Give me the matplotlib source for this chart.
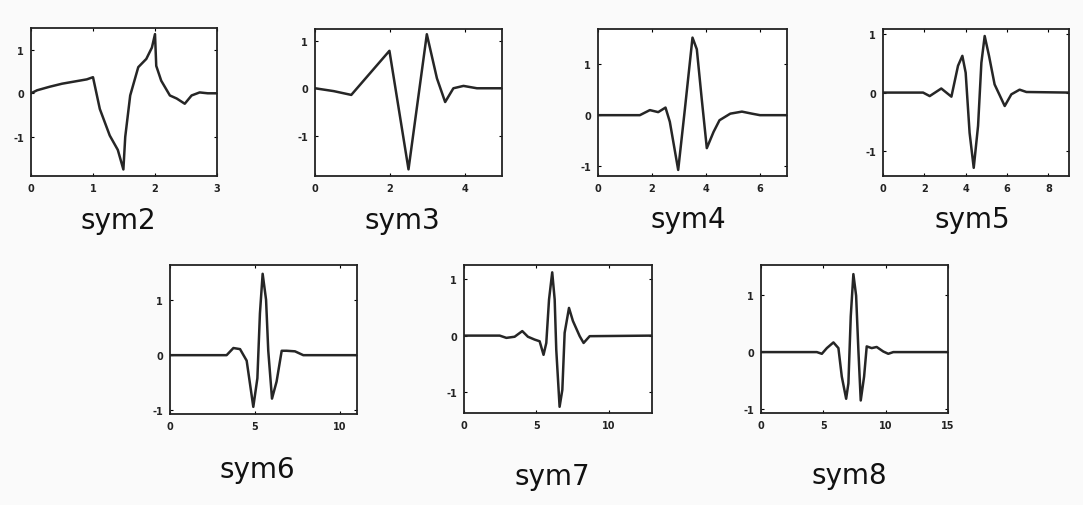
import numpy as np
import matplotlib
matplotlib.use("Agg")
import matplotlib.pyplot as plt

plt.rcParams['font.family'] = ['DejaVu Sans']
plt.rcParams['axes.unicode_minus'] = False

names = ['sym2', 'sym3', 'sym4', 'sym5', 'sym6', 'sym7', 'sym8']

# wavelet shapes (x, psi)
sym2_x = [0, 0.1, 0.3, 0.5, 0.7, 0.9, 1.0, 1.11, 1.27, 1.4, 1.49, 1.52, 1.6, 1.73, 1.86, 1.95, 2.0, 2.02, 2.1, 2.24, 2.35, 2.48, 2.59, 2.72, 2.85, 3.0]
sym2_y = [0, 0.07, 0.15, 0.22, 0.27, 0.32, 0.37, -0.36, -0.97, -1.3, -1.75, -1.0, -0.05, 0.6, 0.79, 1.05, 1.36, 0.63, 0.29, -0.05, -0.12, -0.24, -0.05, 0.02, 0.0, 0.0]
sym3_x = [0, 0.5, 0.97, 1.99, 2.5, 2.99, 3.26, 3.48, 3.7, 3.97, 4.33, 5.0]
sym3_y = [0, -0.06, -0.14, 0.79, -1.71, 1.14, 0.21, -0.29, 0.0, 0.05, 0.0, 0.0]
sym4_x = [0, 1.55, 1.92, 2.23, 2.5, 2.66, 2.97, 3.22, 3.5, 3.66, 3.84, 4.03, 4.28, 4.5, 4.9, 5.33, 5.7, 6.0, 7.0]
sym4_y = [0, 0, 0.1, 0.06, 0.15, -0.13, -1.08, 0.13, 1.53, 1.3, 0.33, -0.65, -0.33, -0.1, 0.03, 0.07, 0.03, 0, 0]
sym5_x = [0, 1.94, 2.26, 2.82, 3.31, 3.63, 3.84, 4.0, 4.19, 4.39, 4.6, 4.76, 4.92, 5.13, 5.4, 5.89, 6.21, 6.61, 6.94, 9.0]
sym5_y = [0, 0, -0.06, 0.07, -0.07, 0.46, 0.63, 0.34, -0.69, -1.29, -0.57, 0.51, 0.97, 0.63, 0.14, -0.23, -0.03, 0.05, 0.01, 0]
sym6_x = [0, 3.33, 3.73, 4.12, 4.51, 4.9, 5.14, 5.29, 5.45, 5.65, 5.78, 6.0, 6.27, 6.57, 6.86, 7.35, 7.84, 11.0]
sym6_y = [0, 0, 0.13, 0.11, -0.1, -0.94, -0.42, 0.76, 1.48, 1.01, 0.08, -0.79, -0.48, 0.08, 0.08, 0.07, 0, 0]
sym7_x = [0, 2.47, 2.93, 3.5, 4.03, 4.42, 4.88, 5.23, 5.5, 5.69, 5.88, 6.1, 6.27, 6.38, 6.61, 6.8, 6.96, 7.26, 7.53, 8.0, 8.27, 8.69, 13.0]
sym7_y = [0, 0, -0.04, -0.02, 0.08, -0.02, -0.07, -0.1, -0.34, -0.13, 0.64, 1.12, 0.64, -0.25, -1.26, -0.96, 0.05, 0.49, 0.26, -0.01, -0.13, -0.01, 0]
sym8_x = [0, 4.48, 4.88, 5.28, 5.81, 6.21, 6.48, 6.83, 7.01, 7.2, 7.41, 7.63, 7.81, 8.0, 8.27, 8.48, 8.88, 9.28, 9.81, 10.21, 10.61, 15.0]
sym8_y = [0, 0, -0.03, 0.07, 0.17, 0.07, -0.43, -0.82, -0.55, 0.63, 1.37, 0.99, 0.04, -0.85, -0.43, 0.1, 0.07, 0.09, 0.01, -0.03, 0, 0]

xs = [sym2_x, sym3_x, sym4_x, sym5_x, sym6_x, sym7_x, sym8_x]
ys = [sym2_y, sym3_y, sym4_y, sym5_y, sym6_y, sym7_y, sym8_y]
xlims = [3, 5, 7, 9, 11, 13, 15]
ylims = [(-1.9, 1.5), (-1.85, 1.25), (-1.2, 1.7), (-1.43, 1.09), (-1.07, 1.64), (-1.37, 1.25), (-1.07, 1.53)]
xticks = [[0, 1, 2, 3], [0, 2, 4], [0, 2, 4, 6], [0, 2, 4, 6, 8], [0, 5, 10], [0, 5, 10], [0, 5, 10, 15]]
yticks = [[-1, 0, 1]] * 7

# axes boxes in pixels: left, top, right, bottom
W, H = 1083, 506
boxes = [(31, 29, 217, 177), (315, 30, 502, 177), (598, 30, 787, 177), (883, 30, 1069, 177),
         (170, 266, 357, 415), (464, 266, 652, 414), (761, 266, 948, 414)]
label_pos = [(118, 221), (402, 221), (688, 220), (972, 220), (257, 470), (552, 477), (849, 476)]

fig = plt.figure(figsize=(W / 100, H / 100), dpi=100)
fig.patch.set_facecolor('#fafafa')

for i in range(7):
    l, t, r, b = boxes[i]
    ax = fig.add_axes([l / W, 1 - b / H, (r - l) / W, (b - t) / H])
    ax.set_facecolor('white')
    ax.plot(xs[i], ys[i], color='#262626', lw=1.8)
    ax.set_xlim(0, xlims[i])
    ax.set_ylim(*ylims[i])
    ax.set_xticks(xticks[i])
    ax.set_yticks(yticks[i])
    ax.tick_params(direction='in', length=2.5, width=0.8, labelsize=7, top=True, right=True, pad=5)
    for lab in ax.get_xticklabels() + ax.get_yticklabels():
        lab.set_fontweight('bold')
        lab.set_color('#222222')
    for s in ax.spines.values():
        s.set_linewidth(1.3)
        s.set_color('#222222')
    fig.text(label_pos[i][0] / W, 1 - label_pos[i][1] / H, names[i], fontsize=20,
             ha='center', va='center', color='#111111')

fig.savefig('out.png', dpi=100, facecolor=fig.get_facecolor())
